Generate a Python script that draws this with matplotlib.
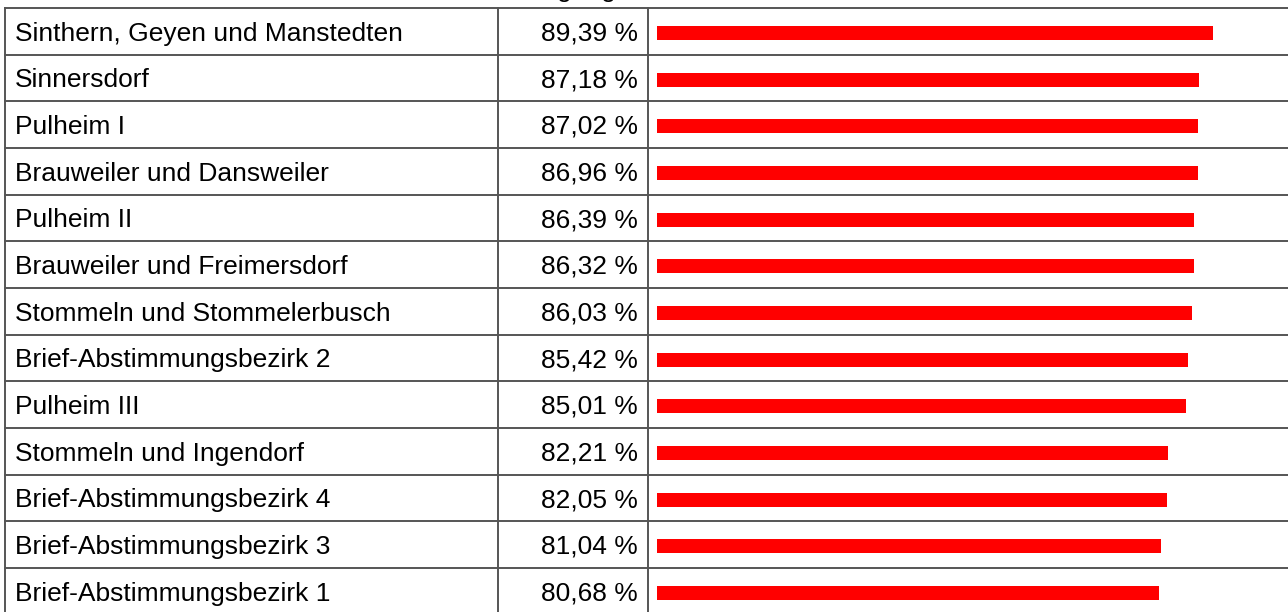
import matplotlib
matplotlib.use("Agg")
import matplotlib.pyplot as plt
import matplotlib.transforms as mtransforms

plt.rcParams['font.family'] = ['Liberation Sans', 'DejaVu Sans']

# Wahlbeteiligung je Stimmbezirk
bezirke = [
    "Sinthern, Geyen und Manstedten",
    "Sinnersdorf",
    "Pulheim I",
    "Brauweiler und Dansweiler",
    "Pulheim II",
    "Brauweiler und Freimersdorf",
    "Stommeln und Stommelerbusch",
    "Brief-Abstimmungsbezirk 2",
    "Pulheim III",
    "Stommeln und Ingendorf",
    "Brief-Abstimmungsbezirk 4",
    "Brief-Abstimmungsbezirk 3",
    "Brief-Abstimmungsbezirk 1",
]
beteiligung = [89.39, 87.18, 87.02, 86.96, 86.39, 86.32, 86.03,
               85.42, 85.01, 82.21, 82.05, 81.04, 80.68]

W, H = 1288, 612
fig = plt.figure(figsize=(W / 100, H / 100), dpi=100)

# layout in pixels
top_px = 8
row_h = 46.67
n = len(bezirke)
bar_left, bar_width = 657, 622
ax = fig.add_axes([bar_left / W, 1 - (top_px + n * row_h) / H,
                   bar_width / W, n * row_h / H])
ax.set_xlim(0, 100)
ax.set_ylim(n, 0)
ax.axis("off")

ypos = [i + 0.5 + 0.036 for i in range(n)]
ax.barh(ypos, beteiligung, height=0.30, color="#ff0000", left=0)

trans = mtransforms.blended_transform_factory(fig.transFigure, ax.transData)
line_kw = dict(color="#555555", lw=1.4, transform=trans, clip_on=False)

# horizontal row lines
for k in range(n + 1):
    ax.plot([5 / W, 1.0], [k, k], **line_kw)
# vertical column lines
for xp in [5, 498, 648]:
    ax.plot([xp / W, xp / W], [0, n], **line_kw)

# text baseline sits ~32 px below the row's top line
base = 32.5 / row_h
for i, (name, val) in enumerate(zip(bezirke, beteiligung)):
    ax.text(15 / W, i + base, name, transform=trans, ha="left", va="baseline",
            fontsize=19, color="black")
    ax.text(638 / W, i + base, f"{val:.2f} %".replace(".", ","), transform=trans,
            ha="right", va="baseline", fontsize=19, color="black")

# title, almost completely cut off at the top edge
fig.text(617 / W, 1 + 2.5 / H, "Wahlbeteiligung", ha="right", va="baseline",
         fontsize=19, color="black")

fig.savefig("out.png", dpi=100)
